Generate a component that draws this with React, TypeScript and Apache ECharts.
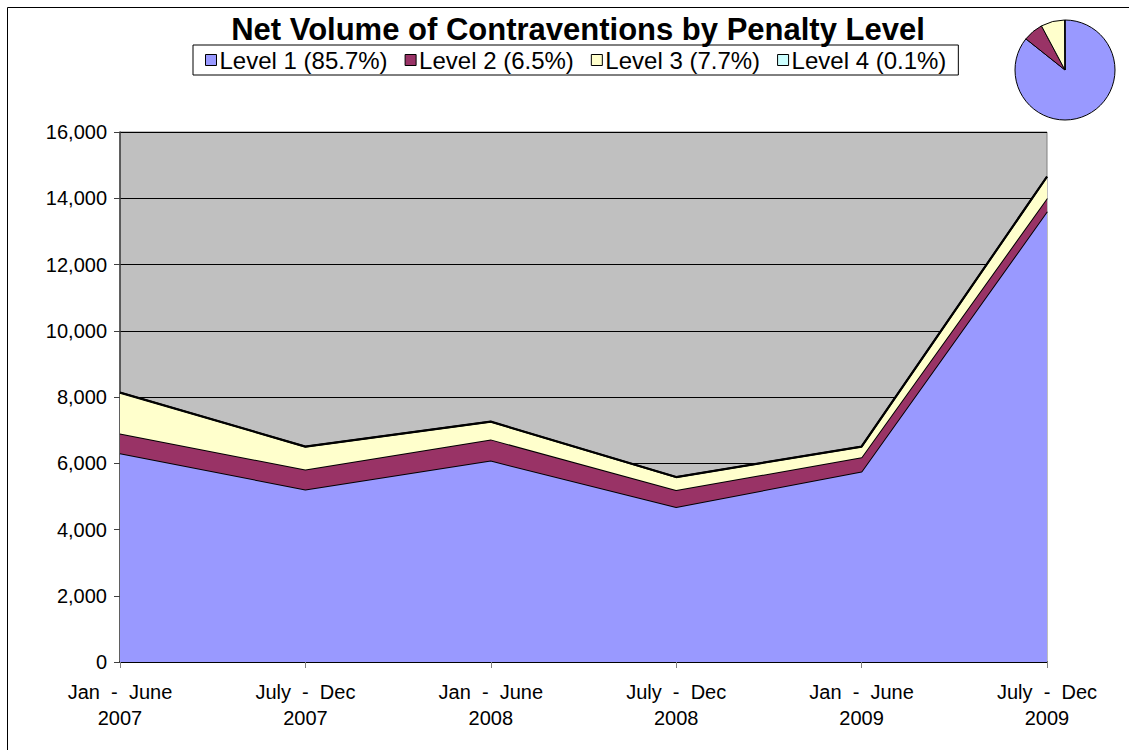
import React, { useEffect, useRef } from "react";
import * as echarts from "echarts";

const categories = [
  "Jan  -  June\n2007",
  "July  -  Dec\n2007",
  "Jan  -  June\n2008",
  "July  -  Dec\n2008",
  "Jan  -  June\n2009",
  "July  -  Dec\n2009",
];
const seriesNames = ["Level 1 (85.7%)", "Level 2 (6.5%)", "Level 3 (7.7%)", "Level 4 (0.1%)"];
const level1 = [6300, 5210, 6080, 4680, 5750, 13600];
const level2 = [600, 600, 640, 510, 430, 400];
const level3 = [1230, 690, 530, 390, 320, 650];
const level4 = [10, 8, 9, 7, 8, 7];
const pieShares = [85.7, 6.5, 7.7, 0.1];
const colors = ["#9999FF", "#993366", "#FFFFCC", "#CCFFFF"];

const FONT = "'Liberation Sans', Arial, sans-serif";

export default function App() {
  const ref = useRef<HTMLDivElement>(null);
  useEffect(() => {
    if (!ref.current) return;
    const chart = echarts.init(ref.current, null, { renderer: "svg" });
    const levels = [level1, level2, level3, level4];
    const areaSeries = levels.map((d, i) => ({
      name: seriesNames[i],
      type: "line",
      stack: "total",
      data: d,
      symbol: "none",
      silent: true,
      itemStyle: { color: colors[i] },
      lineStyle: { color: "#000", width: 2 },
      areaStyle: { color: colors[i], opacity: 1 },
      z: 2 + i,
    }));
    chart.setOption({
      animation: false,
      textStyle: { fontFamily: FONT },
      title: {
        text: "Net Volume of Contraventions by Penalty Level",
        left: 573,
        textAlign: "center",
        top: 9,
        textStyle: { fontFamily: FONT, fontSize: 31, fontWeight: "bold", color: "#000" },
      },
      legend: {
        data: seriesNames,
        left: 193,
        top: 45,
        icon: "rect",
        itemWidth: 11,
        itemHeight: 11,
        itemGap: 17,
        padding: [3, 12],
        borderColor: "#000",
        borderWidth: 1,
        backgroundColor: "#fff",
        itemStyle: { borderColor: "#000", borderWidth: 1 },
        textStyle: { fontFamily: FONT, fontSize: 24, color: "#000", padding: [0, 0, 0, -2] },
        selectedMode: false,
      },
      grid: {
        left: 120,
        right: 82,
        top: 132,
        bottom: 88,
        show: true,
        backgroundColor: "#C0C0C0",
        borderColor: "#808080",
        borderWidth: 1,
      },
      xAxis: {
        type: "category",
        data: categories,
        boundaryGap: false,
        axisLine: { lineStyle: { color: "#000", width: 1.5 } },
        axisTick: { show: true, length: 6, lineStyle: { color: "#808080" } },
        axisLabel: {
          fontFamily: FONT,
          fontSize: 20,
          color: "#000",
          margin: 17,
          lineHeight: 26,
          interval: 0,
        },
      },
      yAxis: {
        type: "value",
        min: 0,
        max: 16000,
        interval: 2000,
        axisLine: { show: true, lineStyle: { color: "#404040", width: 1.5 } },
        axisTick: { show: true, length: 6, lineStyle: { color: "#404040" } },
        splitLine: { show: true, lineStyle: { color: "#000", width: 1 } },
        axisLabel: {
          fontFamily: FONT,
          fontSize: 20,
          color: "#000",
          margin: 13,
          formatter: (v: number) => v.toLocaleString("en-US"),
        },
      },
      series: [
        ...areaSeries,
        {
          type: "pie",
          center: [1065, 70],
          radius: 50,
          silent: true,
          startAngle: 90,
          clockwise: true,
          label: { show: false },
          labelLine: { show: false },
          data: pieShares.map((v, i) => ({
            name: seriesNames[i],
            value: v,
            itemStyle: { color: colors[i], borderColor: "#000", borderWidth: 1 },
          })),
        },
      ],
      graphic: [
        {
          type: "rect",
          silent: true,
          z: -1,
          shape: { x: 7.5, y: 7.5, width: 1200, height: 800 },
          style: { fill: "none", stroke: "#000", lineWidth: 1 },
        },
      ],
    });
    return () => chart.dispose();
  }, []);
  return (
    <div
      ref={ref}
      style={{ position: "fixed", left: 0, top: 0, width: 1129, height: 750, background: "#fff" }}
    />
  );
}
